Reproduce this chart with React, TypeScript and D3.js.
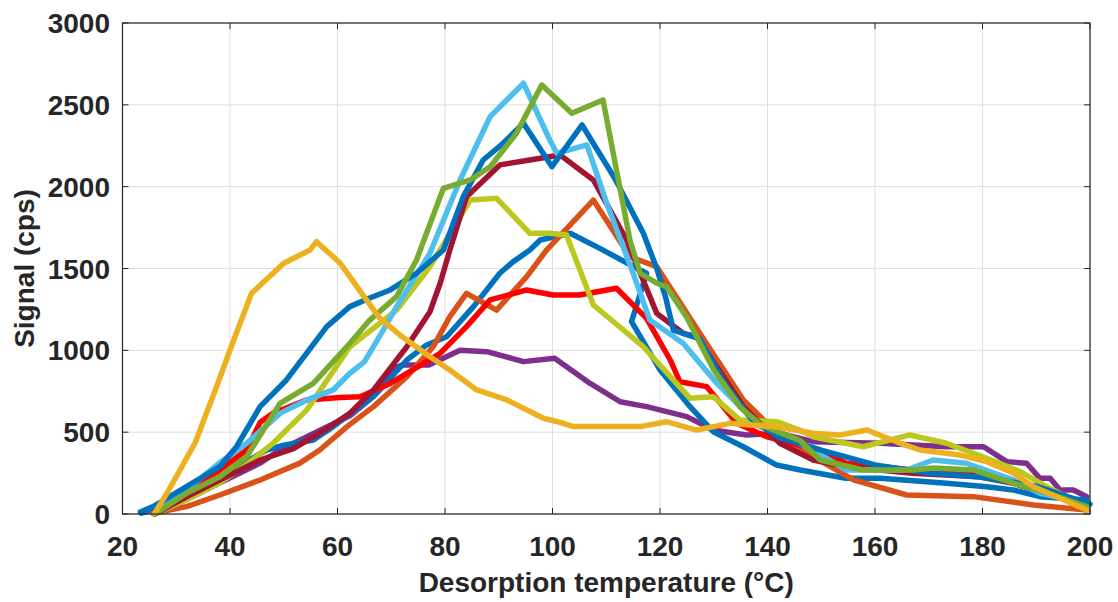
import React from 'react';
import * as d3 from 'd3';

// temperature (°C), signal (cps) pairs
const blueA = [[23.3,12],[25.7,45],[31.9,167],[38.1,289],[41.2,411],[45.6,656],[50.5,819],[58,1145],[62.3,1267],[66,1320],[69.8,1369],[74.7,1471],[79.7,1613],[83.4,1939],[87.1,2163],[90.8,2265],[94.6,2387],[99.9,2122],[105.5,2377],[111.6,2050],[116.9,1715],[119.4,1500],[121,1330],[122.5,1124],[127.4,1070],[132,800],[137,580],[142,470],[150,390],[160,300],[170,250],[180,225],[190,170],[200,60]];
const blueB = [[23.5,5],[27,40],[31.9,130],[38.1,228],[42,300],[46.8,391],[50,420],[55.5,452],[59.2,534],[62.3,610],[66.7,717],[72.9,941],[76.6,1033],[80.3,1083],[85.3,1267],[90.2,1471],[92.7,1542],[95.8,1613],[97.7,1674],[103.3,1715],[108.8,1623],[116.3,1491],[117.5,1471],[114.7,1175],[120,880],[125.6,656],[129.9,503],[135.5,411],[141.7,299],[146.1,269],[154.6,218],[161,218],[173.3,188],[180.8,167],[185.7,147],[190.7,106],[199.4,86]];
const orange = [[25.7,4],[31.9,45],[38.1,116],[45.6,208],[53,311],[56.7,391],[62,540],[66.7,656],[72.9,839],[77.8,1022],[80.9,1206],[84,1348],[89.6,1246],[95.2,1450],[98.9,1613],[107.6,1918],[114.4,1572],[119.4,1511],[127.4,1104],[135.5,697],[139.9,554],[142.3,493],[146.1,391],[148.5,350],[156,208],[165.9,116],[178.3,106],[189.5,55],[199.4,24]];
const yellow = [[26,5],[28.5,140],[30.7,269],[33.5,434],[37.5,778],[40,1002],[44,1348],[50,1532],[54.9,1613],[56.1,1664],[60.5,1532],[62.3,1450],[65.4,1307],[67.9,1195],[71.6,1094],[77.2,961],[80.9,880],[85.9,758],[91.5,697],[98.3,585],[101.4,560],[103.9,534],[116.3,534],[121.2,564],[126.8,513],[133,554],[142.3,530],[148.5,493],[153.5,483],[158.5,513],[164.7,432],[168.4,391],[175.8,360],[180.8,320],[185.7,250],[189.5,167],[193.8,106],[199.4,24]];
const purple = [[26,0],[32,90],[38,189],[45.6,311],[49.3,391],[54.3,472],[62.3,600],[66,700],[70,880],[72,910],[77,910],[82.8,1000],[87.8,992],[94.6,931],[100.4,951],[107,798],[112.6,686],[117.5,656],[125,595],[129.9,513],[136.1,483],[142.3,493],[148.5,442],[161,432],[173.3,411],[180.2,411],[184.5,320],[188.2,310],[190.7,218],[192.6,218],[194.4,147],[196.9,147],[199.4,106]];
const green = [[26,0],[32,128],[38.1,228],[43.1,350],[49.3,676],[55.5,798],[60,960],[62.3,1043],[66,1185],[71,1328],[74.7,1552],[79.7,1990],[84.7,2041],[88.4,2122],[93.3,2326],[98,2621],[103.6,2448],[109.4,2530],[114.4,1674],[116.3,1471],[119.4,1410],[121.2,1389],[125,1200],[130,880],[135,650],[139,540],[146,450],[149.8,330],[157.8,269],[167,269],[170.8,281],[178.3,269],[185.7,188],[192,130],[199.4,45]];
const lightBlue = [[26,0],[31.9,147],[38,311],[43.1,432],[49.3,615],[54.3,697],[59.2,758],[62.3,860],[65,930],[68.5,1124],[71,1267],[77.2,1593],[82.8,2041],[88.4,2428],[94.6,2632],[99.5,2285],[100.8,2204],[106.4,2255],[110.1,1898],[115,1471],[118.1,1185],[124.3,1043],[130.6,798],[138.6,534],[143.6,472],[150,360],[154.6,269],[165.9,269],[170.8,330],[177,310],[185.7,208],[190.7,126],[199.4,65]];
const darkRed = [[26,0],[32,106],[38.1,208],[45.6,330],[51.8,400],[57,500],[62.3,616],[66.7,758],[72.9,1022],[77.2,1236],[79.1,1410],[80.9,1613],[84,1939],[90.2,2133],[95.8,2163],[101.4,2194],[107.6,2041],[113.8,1674],[119.4,1226],[124.3,1104],[126.8,1083],[135.5,656],[142.3,432],[146,371],[148.5,330],[154.6,289],[167,249],[179.4,228],[185.7,188],[192,126],[199.4,45]];
const red = [[26,0],[32,120],[38.1,269],[43.1,391],[45.6,560],[48,615],[54.3,697],[60.5,712],[64.2,717],[69.8,798],[79.1,982],[84,1145],[88.4,1308],[95.2,1369],[100.1,1338],[105,1338],[111.9,1379],[117.5,1195],[121.9,941],[123.7,808],[128.7,778],[134.3,554],[139.9,472],[146,420],[149.8,391],[154.6,310],[167,269],[179.4,249],[185.7,188],[192,130],[199.4,45]];
const olive = [[26,0],[32,90],[38,189],[43,300],[48,432],[54.3,636],[62.3,1022],[71,1246],[77.2,1511],[84.7,1918],[89.6,1929],[95.8,1715],[99.5,1715],[102.6,1705],[107.6,1277],[116.9,1022],[125.6,707],[129.9,717],[134.9,574],[141.7,564],[146,513],[148.5,472],[157.8,411],[166.5,483],[173.3,432],[180.8,340],[187,259],[191.9,167],[199.4,45]];

const series = [
  { data: purple, color: '#7E2F8E' },
  { data: blueB, color: '#0072BD' },
  { data: orange, color: '#D95319' },
  { data: red, color: '#FF0000' },
  { data: olive, color: '#BCC81E' },
  { data: darkRed, color: '#A2142F' },
  { data: lightBlue, color: '#4DBEEE' },
  { data: blueA, color: '#0072BD' },
  { data: green, color: '#77AC30' },
  { data: yellow, color: '#EDB120' },
];

const xTicks = [20, 40, 60, 80, 100, 120, 140, 160, 180, 200];
const yTicks = [0, 500, 1000, 1500, 2000, 2500, 3000];

const W = 1118;
const H = 602;
const left = 122.5, right = 1090, top = 23, bottom = 514;
const font = '"Liberation Sans", Arial, sans-serif';
const ink = '#262626';

export default function App() {
  const x = d3.scaleLinear().domain([20, 200]).range([left, right]);
  const y = d3.scaleLinear().domain([0, 3000]).range([bottom, top]);
  const line = d3.line<number[]>().x(d => x(d[0])).y(d => y(d[1]));

  return (
    <svg width={W} height={H} style={{ position: 'absolute', left: 0, top: 0, background: '#fff' }}>
      <rect x={0} y={0} width={W} height={H} fill="#fff" />
      {/* grid */}
      {xTicks.map(t => (
        <line key={'gx' + t} x1={x(t)} x2={x(t)} y1={top} y2={bottom} stroke="#dedede" strokeWidth={1} />
      ))}
      {yTicks.map(t => (
        <line key={'gy' + t} x1={left} x2={right} y1={y(t)} y2={y(t)} stroke="#dedede" strokeWidth={1} />
      ))}
      {/* data */}
      <g fill="none" strokeWidth={5.5} strokeLinejoin="round" strokeLinecap="round">
        {series.map((s, i) => (
          <path key={i} d={line(s.data) || ''} stroke={s.color} />
        ))}
      </g>
      {/* box + ticks */}
      <rect x={left} y={top} width={right - left} height={bottom - top} fill="none" stroke={ink} strokeWidth={1.2} />
      {xTicks.map(t => (
        <g key={'tx' + t}>
          <line x1={x(t)} x2={x(t)} y1={bottom} y2={bottom - 6} stroke={ink} />
          <line x1={x(t)} x2={x(t)} y1={top} y2={top + 6} stroke={ink} />
          <text x={x(t)} y={556} textAnchor="middle" fontFamily={font} fontWeight="bold" fontSize={28} fill={ink}>{t}</text>
        </g>
      ))}
      {yTicks.map(t => (
        <g key={'ty' + t}>
          <line x1={left} x2={left + 6} y1={y(t)} y2={y(t)} stroke={ink} />
          <line x1={right} x2={right - 6} y1={y(t)} y2={y(t)} stroke={ink} />
          <text x={110} y={y(t)} dy="0.36em" textAnchor="end" fontFamily={font} fontWeight="bold" fontSize={28} fill={ink}>{t}</text>
        </g>
      ))}
      <text x={(left + right) / 2} y={592} textAnchor="middle" fontFamily={font} fontWeight="bold" fontSize={28} fill={ink}>
        Desorption temperature (°C)
      </text>
      <text transform={`translate(34,${(top + bottom) / 2}) rotate(-90)`} textAnchor="middle" fontFamily={font} fontWeight="bold" fontSize={28} fill={ink}>
        Signal (cps)
      </text>
    </svg>
  );
}
